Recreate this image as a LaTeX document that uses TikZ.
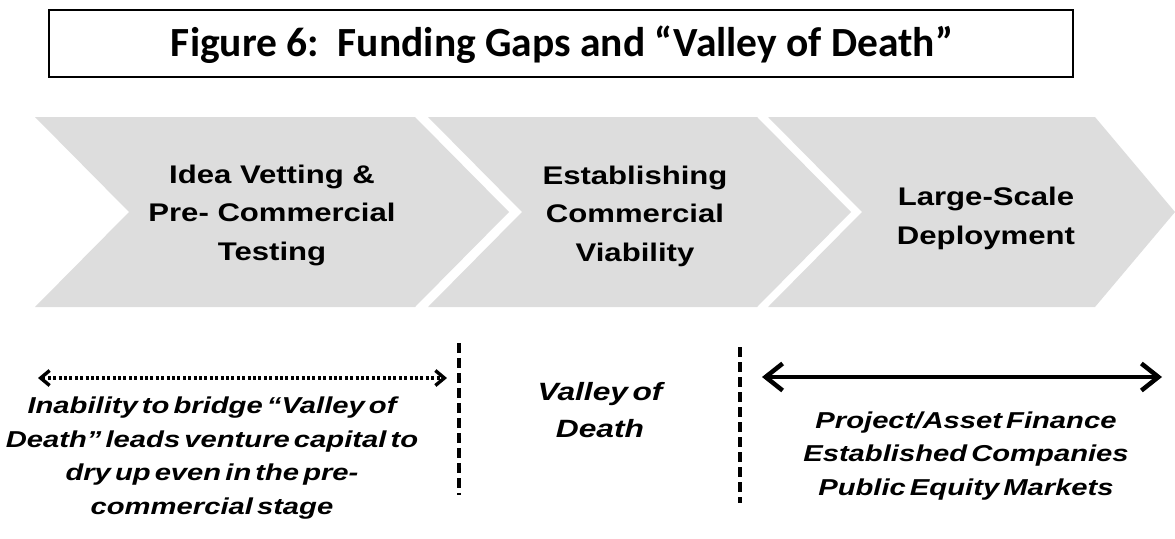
\documentclass[tikz,border=0pt]{standalone}
\usepackage{fontspec}
\setmainfont{Liberation Sans}
\newfontfamily\titlefont{Carlito}
\newfontfamily\stagefont[FakeStretch=1.22]{Liberation Sans}
\newfontfamily\notefont[FakeStretch=1.27,WordSpace=0.5]{Liberation Sans}
\usetikzlibrary{arrows.meta}
\definecolor{chevgray}{RGB}{221,221,221}
\tikzset{
  chevron/.style={fill=chevgray,draw=none},
  titlebox/.style={draw=black,line width=2pt,minimum width=1024pt,minimum height=67pt,inner sep=0pt},
  titletext/.style={font=\titlefont\bfseries\fontsize{41.5}{48}\selectfont,inner sep=0pt,anchor=base},
  stagetext/.style={font=\stagefont\bfseries\fontsize{25.5}{38.5}\selectfont,align=center,anchor=base,inner sep=0pt},
  notetext/.style={font=\notefont\bfseries\itshape\fontsize{23}{33.5}\selectfont,align=center,anchor=base,inner sep=0pt},
  valleytext/.style={notetext,font=\notefont\bfseries\itshape\fontsize{25}{37}\selectfont},
  gapline/.style={line width=3.5pt,dash pattern=on 10pt off 5pt},
  dotarrow/.style={line width=3.2pt,dash pattern=on 3pt off 2.4pt,
    {Straight Barb[length=9pt,width=15pt,line width=3.4pt]}-{Straight Barb[length=9pt,width=15pt,line width=3.4pt]}},
  solidarrow/.style={line width=4.5pt,
    {Straight Barb[length=17pt,width=27pt,line width=4.5pt]}-{Straight Barb[length=17pt,width=27pt,line width=4.5pt]}}
}
\begin{document}
\begin{tikzpicture}[x=1pt,y=-1pt]
\useasboundingbox (0,0) rectangle (1175,538);
% title
\node[titlebox] (tbox) at (561,43.5) {};
\node[titletext] (title) at (562,56) {Figure 6:\ \ Funding Gaps and “Valley of Death”};
% chevrons
\fill[chevron] (35,117) -- (415,117) -- (509,212) -- (415,307) -- (35,307) -- (129,212) -- cycle;
\fill[chevron] (428,117) -- (757,117) -- (851,212) -- (757,307) -- (428,307) -- (522,212) -- cycle;
\fill[chevron] (768,117) -- (1095,117) -- (1175,212) -- (1095,307) -- (768,307) -- (862,212) -- cycle;
\node[stagetext] (s1) at (272,260) {Idea Vetting \&\\Pre- Commercial\\Testing};
\node[stagetext] (s2) at (635,261) {Establishing\\Commercial\\Viability};
\node[stagetext] (s3) at (986,244) {Large-Scale\\Deployment};
% gap markers
\coordinate (g1t) at (459,343);
\coordinate (g1b) at (459,495);
\coordinate (g2t) at (740,347);
\coordinate (g2b) at (740,503);
\draw[gapline] (g1t) -- (g1b);
\draw[gapline] (g2t) -- (g2b);
% arrows
\coordinate (dl) at (38,378);
\coordinate (dr) at (447,378);
\draw[dotarrow] (dl) -- (dr);
\coordinate (al) at (762,377);
\coordinate (ar) at (1162,377);
\draw[solidarrow] (al) -- (ar);
% notes
\node[notetext] (nleft) at (212,514) {Inability to bridge “Valley of\\Death” leads venture capital to\\dry up even in the pre-\\commercial stage};
\node[valleytext] (nvalley) at (600,437) {Valley of\\Death};
\node[notetext] (nright) at (966,495) {Project/Asset Finance\\Established Companies\\Public Equity Markets};
\end{tikzpicture}
\end{document}
